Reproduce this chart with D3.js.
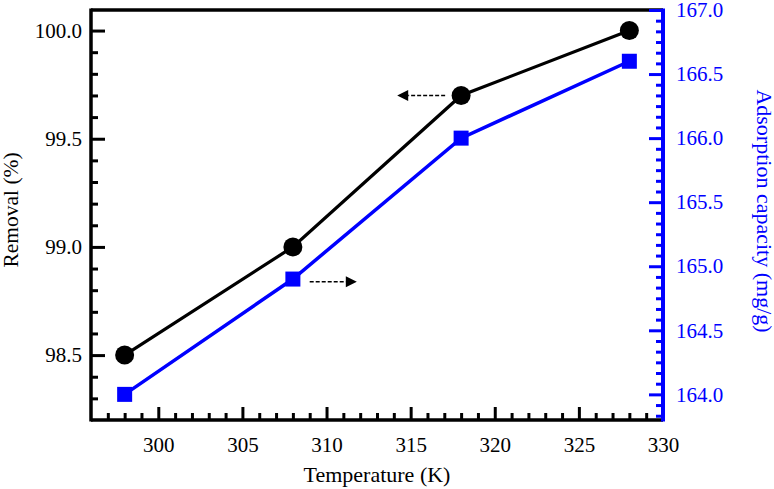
<!DOCTYPE html>
<html>
<head>
<meta charset="utf-8">
<script src="https://cdn.jsdelivr.net/npm/d3@7/dist/d3.min.js"></script>
<style>
  html, body { margin: 0; padding: 0; background: #fff; }
  svg { display: block; }
</style>
</head>
<body>
<svg id="chart" width="774" height="489"></svg>
<script>
// ---- data ----
const temperatures = [298, 308, 318, 328];
const removal = [98.5, 99.0, 99.7, 100.0];
const adsorption = [164.0, 164.9, 166.0, 166.6];

const xTicks = [300, 305, 310, 315, 320, 325, 330];
const yLeftTicks = [98.5, 99.0, 99.5, 100.0];
const yRightTicks = [164.0, 164.5, 165.0, 165.5, 166.0, 166.5, 167.0];

// arrow annotations in data units: tail x, tip x, y
const arrowLeft = { x0: 317.05, x1: 314.2, y: 99.7 };     // points to left axis
const arrowRight = { x0: 309.0, x1: 311.8, y: 164.88 };   // points to right axis

const xTitle = "Temperature (K)";
const yLeftTitle = "Removal (%)";
const yRightTitle = "Adsorption capacity (mg/g)";

// ---- layout ----
const L = 91, R = 663, T = 10, B = 420;
const BLUE = "#0000ff";
const FONT = "'Liberation Serif'";

const svg = d3.select("#chart");

const x = d3.scaleLinear().domain([296, 330]).range([L, R]);
const yL = d3.scaleLinear().domain([98.2, 100.095]).range([B, T]);
const yR = d3.scaleLinear().domain([163.8, 167.0]).range([B, T]);

// minor tick values
const xMinor = d3.range(297, 330, 1).filter(v => v % 5 !== 0);
const yLMinor = d3.range(98.3, 100.05, 0.1).map(v => +v.toFixed(2)).filter(v => Math.abs(v * 2 - Math.round(v * 2)) > 1e-6);
const yRMinor = [];
for (let k = -2; k <= 36; k++) {
  const v = 164.0 + k * (0.5 / 6);
  if (v > 163.8 + 1e-6 && v < 167.0 - 1e-6 && k % 6 !== 0) yRMinor.push(v);
}

// ---- axes ----
function styleAxis(g, color) {
  g.attr("font-family", null).attr("font-size", null);
  g.select(".domain").remove();
  g.selectAll(".tick line").attr("stroke", color).attr("stroke-width", 3);
  g.selectAll(".tick text").attr("fill", color)
    .style("font-family", FONT).style("font-size", "21px");
}

// x axis
svg.append("g").attr("transform", `translate(0,${B})`)
  .call(d3.axisBottom(x).tickValues(xMinor).tickSize(-7).tickFormat(""))
  .call(g => styleAxis(g, "#000"));
svg.append("g").attr("transform", `translate(0,${B})`)
  .call(d3.axisBottom(x).tickValues(xTicks.filter(v => v < 330)).tickSize(-13).tickPadding(17).tickFormat(d3.format("d")))
  .call(g => styleAxis(g, "#000"));
svg.append("g").attr("transform", `translate(0,${B})`)
  .call(d3.axisBottom(x).tickValues([330]).tickSize(0).tickPadding(17).tickFormat(d3.format("d")))
  .call(g => styleAxis(g, "#000"));

// left axis
svg.append("g").attr("transform", `translate(${L},0)`)
  .call(d3.axisLeft(yL).tickValues(yLMinor).tickSize(-7).tickFormat(""))
  .call(g => styleAxis(g, "#000"));
svg.append("g").attr("transform", `translate(${L},0)`)
  .call(d3.axisLeft(yL).tickValues(yLeftTicks).tickSize(-14).tickPadding(9).tickFormat(d3.format(".1f")))
  .call(g => styleAxis(g, "#000"));

// frame (black)
svg.append("line").attr("x1", L).attr("x2", R).attr("y1", T).attr("y2", T)
  .attr("stroke", "#000").attr("stroke-width", 3.5);
svg.append("line").attr("x1", L).attr("x2", L).attr("y1", T - 1.5).attr("y2", B + 1.5)
  .attr("stroke", "#000").attr("stroke-width", 3.5);
svg.append("line").attr("x1", L).attr("x2", R).attr("y1", B).attr("y2", B)
  .attr("stroke", "#000").attr("stroke-width", 3.5);

// right axis (blue)
svg.append("g").attr("transform", `translate(${R},0)`)
  .call(d3.axisRight(yR).tickValues(yRMinor).tickSize(-7).tickFormat(""))
  .call(g => styleAxis(g, BLUE));
svg.append("g").attr("transform", `translate(${R},0)`)
  .call(d3.axisRight(yR).tickValues(yRightTicks).tickSize(-14).tickPadding(13).tickFormat(d3.format(".1f")))
  .call(g => styleAxis(g, BLUE));
svg.append("line").attr("x1", R).attr("x2", R).attr("y1", T - 1.5).attr("y2", B + 1.5)
  .attr("stroke", BLUE).attr("stroke-width", 4);

// ---- series ----
const lineL = d3.line().x((d, i) => x(temperatures[i])).y(d => yL(d));
const lineR = d3.line().x((d, i) => x(temperatures[i])).y(d => yR(d));

svg.append("path").datum(adsorption).attr("d", lineR)
  .attr("fill", "none").attr("stroke", BLUE).attr("stroke-width", 3.5);
svg.append("path").datum(removal).attr("d", lineL)
  .attr("fill", "none").attr("stroke", "#000").attr("stroke-width", 3.2);

svg.selectAll("rect.sq").data(adsorption).enter().append("rect")
  .attr("class", "sq")
  .attr("x", (d, i) => x(temperatures[i]) - 7.5)
  .attr("y", d => yR(d) - 7.5)
  .attr("width", 15).attr("height", 15)
  .attr("fill", BLUE);

svg.selectAll("circle.pt").data(removal).enter().append("circle")
  .attr("class", "pt")
  .attr("cx", (d, i) => x(temperatures[i]))
  .attr("cy", d => yL(d))
  .attr("r", 9.5)
  .attr("fill", "#000");

// ---- arrows ----
function drawArrow(a, yScale) {
  const x0 = x(a.x0), x1 = x(a.x1), yy = yScale(a.y);
  const dir = Math.sign(x1 - x0);
  const head = 11;
  svg.append("line")
    .attr("x1", x0).attr("x2", x1 - dir * head).attr("y1", yy).attr("y2", yy)
    .attr("stroke", "#000").attr("stroke-width", 1.5).attr("stroke-dasharray", "4,2");
  svg.append("path")
    .attr("d", `M${x1},${yy} L${x1 - dir * head},${yy - 5.5} L${x1 - dir * head},${yy + 5.5} Z`)
    .attr("fill", "#000");
}
drawArrow(arrowLeft, yL);
drawArrow(arrowRight, yR);

// ---- titles ----
svg.append("text")
  .attr("x", (L + R) / 2).attr("y", 482)
  .attr("text-anchor", "middle")
  .style("font-family", FONT).style("font-size", "22px").attr("fill", "#000")
  .text(xTitle);

svg.append("text")
  .attr("transform", `translate(18,210) rotate(-90)`)
  .attr("text-anchor", "middle")
  .style("font-family", FONT).style("font-size", "21.5px").attr("fill", "#000")
  .text(yLeftTitle);

svg.append("text")
  .attr("transform", `translate(757,211) rotate(90)`)
  .attr("text-anchor", "middle")
  .style("font-family", FONT).style("font-size", "22px").attr("fill", BLUE)
  .text(yRightTitle);
</script>
</body>
</html>
